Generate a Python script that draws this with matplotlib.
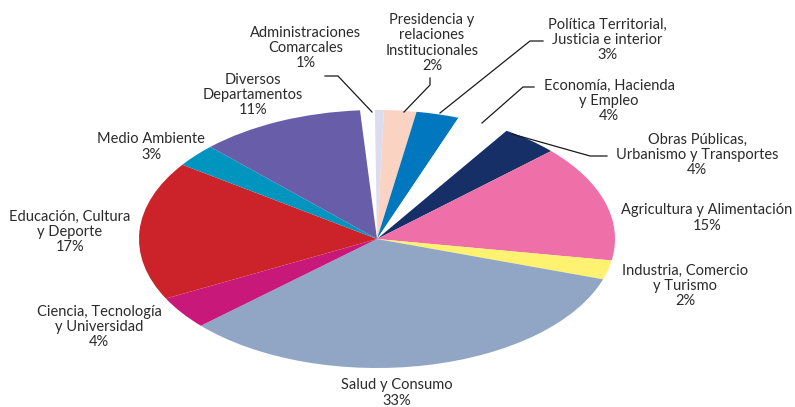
import matplotlib
matplotlib.use("Agg")
import matplotlib.pyplot as plt

# shares of the budget by department (%)
names = ["Administraciones\nComarcales", "Presidencia y\nrelaciones\nInstitucionales",
         "Política Territorial,\nJusticia e interior", "Economía, Hacienda\ny Empleo",
         "Obras Públicas,\nUrbanismo y Transportes", "Agricultura y Alimentación",
         "Industria, Comercio\ny Turismo", "Salud y Consumo",
         "Ciencia, Tecnología\ny Universidad", "Educación, Cultura\ny Deporte",
         "Medio Ambiente", "Diversos\nDepartamentos"]
shares = [0.6, 2.2, 2.9, 3.6, 3.9, 14.6, 2.4, 33.2, 4.1, 17.4, 2.9, 11.2]
colors = ["#dcdcf0", "#fbd3c3", "#0077bf", "#ffffff", "#162f66", "#ef6fa9",
          "#fff270", "#91a6c4", "#c8197b", "#cc232a", "#0095bf", "#675da9"]

# pie centre / radii in pixels (the pie is a flattened ellipse)
CX, CY, RX, RY = 377, 239, 238, 129
W, H = 795, 407


def P(x, y):
    return (x - CX) / RX, (CY - y) / RY


fig = plt.figure(figsize=(W / 100, H / 100), dpi=100)
ax = fig.add_axes([0, 0, 1, 1])
ax.pie([s / 100 for s in shares], colors=colors, startangle=90.5,
       counterclock=False, normalize=False, radius=1,
       wedgeprops=dict(linewidth=0))
ax.set_aspect("auto")
ax.set_xlim(P(0, 0)[0], P(W, 0)[0])
ax.set_ylim(P(0, H)[1], P(0, 0)[1])
ax.axis("off")

# label block centres in pixels
label_pos = [(306, 48), (432, 43), (607, 40), (609, 101), (697, 155), (707, 218),
             (685, 286), (397, 393), (99, 327), (70, 232), (151, 147), (253, 95)]

for name, s, (lx, ly) in zip(names, shares, label_pos):
    ax.text(*P(lx, ly), f"{name}\n{round(s)}%", ha="center", va="center",
            multialignment="center", fontsize=10.5, family="Lato",
            color="#2b2b2b", linespacing=1.12)

leaders = [
    [(325, 76), (338, 76), (372, 112)],
    [(430, 78), (430, 85), (404, 112)],
    [(543, 41), (530, 41), (440, 113)],
    [(534, 87), (523, 87), (482, 123)],
    [(607, 156), (590, 156), (512, 134)],
]
for pts in leaders:
    xs, ys = zip(*[P(x, y) for x, y in pts])
    ax.plot(xs, ys, color="#1a1a1a", lw=0.9)

fig.savefig("out.png", dpi=100)
